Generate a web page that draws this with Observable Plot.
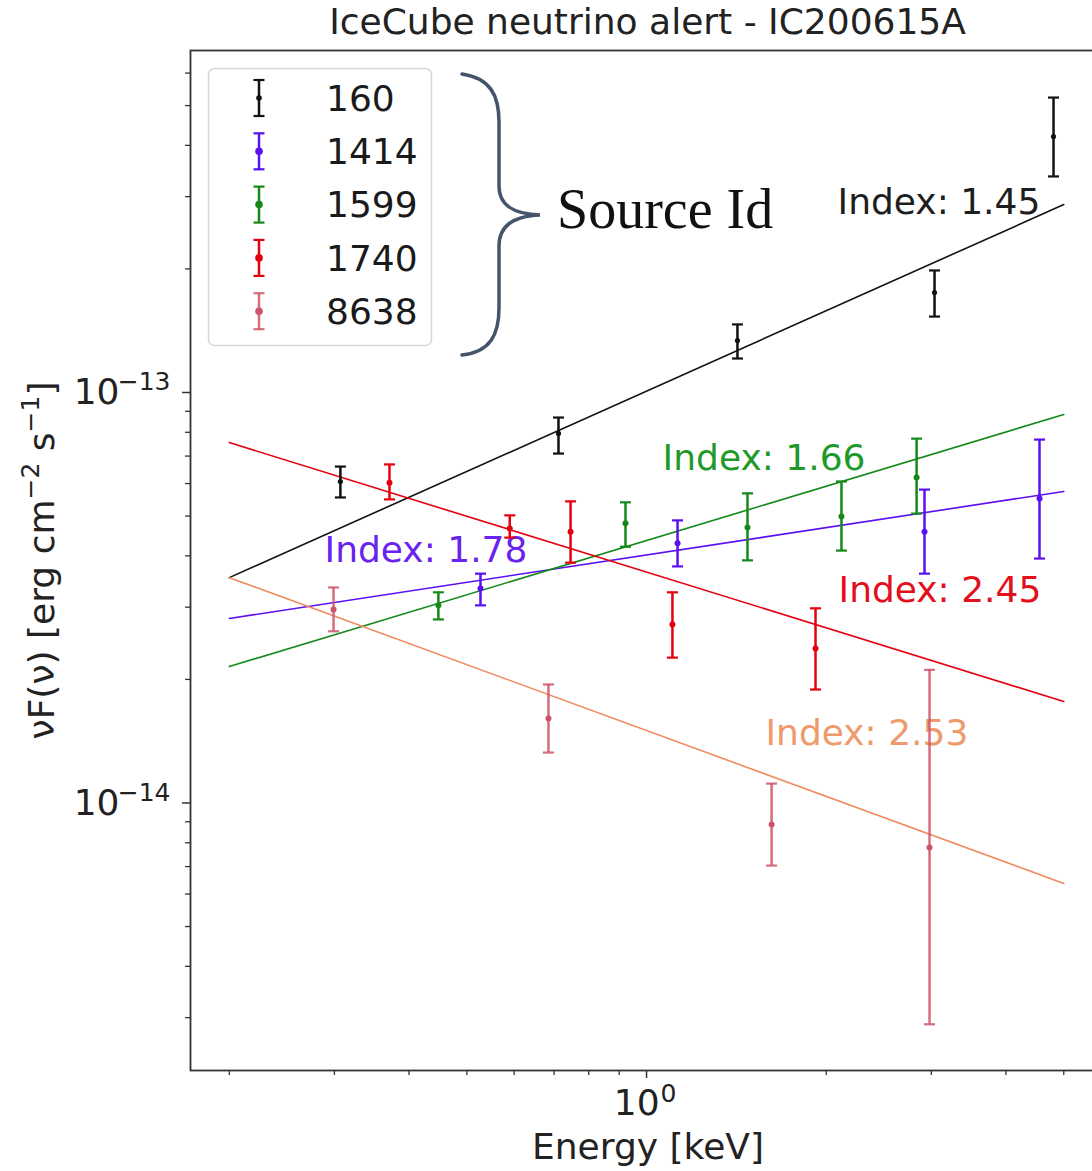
<!DOCTYPE html>
<html><head><meta charset="utf-8">
<script src="https://cdn.jsdelivr.net/npm/d3@7"></script>
<script src="https://cdn.jsdelivr.net/npm/@observablehq/plot@0.6"></script>
<style>
body{margin:0;background:#fff;}
#wrap{position:relative;width:1092px;height:1171px;overflow:hidden;background:#fff;font-family:"DejaVu Sans",sans-serif;}
#title{position:absolute;left:190px;top:0;width:915px;height:44px;line-height:44px;text-align:center;font-size:36px;color:#222;white-space:nowrap;}
#chart{position:absolute;left:0;top:44px;}
#overlay{position:absolute;left:0;top:0;pointer-events:none;}
</style></head>
<body>
<div id="wrap">
  <div id="title">IceCube neutrino alert - IC200615A</div>
  <div id="chart"></div>
  <svg id="overlay" width="1092" height="1171"></svg>
</div>
<script>
// ---- categories & colours ----
const sourceIds = ["160", "1414", "1599", "1740", "8638"];
const pointColors = ["#111111", "#5a10f0", "#14891a", "#e5000f", "#cc5468"];
const fitColors = ["#111111", "#5a10f0", "#14891a", "#e5000f", "#ef8a5e"];
const indexLabels = ["Index: 1.45", "Index: 1.78", "Index: 1.66", "Index: 2.45", "Index: 2.53"];
const labelColors = ["#1e1e1e", "#6a22ee", "#1f9a2a", "#e2101c", "#ee9a6c"];
const labelEnergy = [2.089, 0.2888, 1.064, 2.097, 1.582];
const labelFlux = [2.904e-13, 4.12e-14, 6.91e-14, 3.29e-14, 1.476e-14];

// ---- series values (energy keV, nuFnu, lower, upper) ----
const e160 = [0.307, 0.712, 1.420, 3.037, 4.806];
const f160 = [6.07e-14, 7.95e-14, 1.339e-13, 1.752e-13, 4.203e-13];
const lo160 = [5.55e-14, 7.10e-14, 1.210e-13, 1.531e-13, 3.36e-13];
const hi160 = [6.60e-14, 8.69e-14, 1.465e-13, 1.983e-13, 5.23e-13];

const e1414 = [0.527, 1.127, 2.922, 4.553];
const f1414 = [3.33e-14, 4.29e-14, 4.58e-14, 5.52e-14];
const lo1414 = [3.03e-14, 3.77e-14, 3.62e-14, 3.94e-14];
const hi1414 = [3.62e-14, 4.88e-14, 5.80e-14, 7.68e-14];

const e1599 = [0.448, 0.922, 1.476, 2.121, 2.834];
const f1599 = [3.03e-14, 4.80e-14, 4.69e-14, 4.99e-14, 6.21e-14];
const lo1599 = [2.80e-14, 4.21e-14, 3.90e-14, 4.12e-14, 5.07e-14];
const hi1599 = [3.26e-14, 5.40e-14, 5.68e-14, 6.07e-14, 7.72e-14];

const e1740 = [0.371, 0.590, 0.746, 1.105, 1.919];
const f1740 = [6.03e-14, 4.66e-14, 4.58e-14, 2.72e-14, 2.38e-14];
const lo1740 = [5.49e-14, 4.43e-14, 3.85e-14, 2.26e-14, 1.89e-14];
const hi1740 = [6.68e-14, 5.02e-14, 5.43e-14, 3.26e-14, 2.98e-14];

const e8638 = [0.299, 0.685, 1.620, 2.979];
const f8638 = [2.96e-14, 1.606e-14, 8.86e-15, 7.79e-15];
const lo8638 = [2.62e-14, 1.327e-14, 7.04e-15, 2.89e-15];
const hi8638 = [3.35e-14, 1.944e-14, 1.115e-14, 2.11e-14];

// fitted power laws (end points)
const fitEnergy = [0.2, 5];
const fit160 = [3.54e-14, 2.87e-13];
const fit1414 = [2.815e-14, 5.74e-14];
const fit1599 = [2.15e-14, 8.84e-14];
const fit1740 = [7.55e-14, 1.767e-14];
const fit8638 = [3.54e-14, 6.37e-15];

// ticks
const xMajor = [1];
const xMajorExp = ["0"];
const xMinor = [0.2, 0.3, 0.4, 0.5, 0.6, 0.7, 0.8, 0.9, 2, 3, 4, 5];
const yMajor = [1e-14, 1e-13];
const yMajorExp = ["−14", "−13"];
const yMinor = [3e-15, 4e-15, 5e-15, 6e-15, 7e-15, 8e-15, 9e-15,
  2e-14, 3e-14, 4e-14, 5e-14, 6e-14, 7e-14, 8e-14, 9e-14,
  2e-13, 3e-13, 4e-13, 5e-13, 6e-13];

// ---- tables ----
const seriesE = [e160, e1414, e1599, e1740, e8638];
const seriesF = [f160, f1414, f1599, f1740, f8638];
const seriesLo = [lo160, lo1414, lo1599, lo1740, lo8638];
const seriesHi = [hi160, hi1414, hi1599, hi1740, hi8638];
const fits = [fit160, fit1414, fit1599, fit1740, fit8638];

const points = [];
sourceIds.forEach((id, s) => seriesE[s].forEach((e, i) => points.push({
  id, s, e, f: seriesF[s][i], lo: seriesLo[s][i], hi: seriesHi[s][i]
})));
const fitRows = [];
sourceIds.forEach((id, s) => fitEnergy.forEach((e, i) => fitRows.push({id, s, e, f: fits[s][i]})));
const labelRows = sourceIds.map((id, s) => ({id, s, e: labelEnergy[s], f: labelFlux[s], text: indexLabels[s]}));
const xTickRows = xMajor.map((v, i) => ({v, exp: xMajorExp[i]}));
const yTickRows = yMajor.map((v, i) => ({v, exp: yMajorExp[i]}));

const capSymbol = {draw(ctx, size) { const w = Math.sqrt(size / Math.PI); ctx.moveTo(-w, 0); ctx.lineTo(w, 0); }};
const pc = d => pointColors[d.s];
const op = d => d.s === 4 ? 0.85 : 1;
const txt = "#222";

const chart = Plot.plot({
  width: 1092, height: 1127,
  marginTop: 6, marginBottom: 101, marginLeft: 190, marginRight: -13,
  style: {fontFamily: "DejaVu Sans", fontSize: "36px", color: txt, background: "transparent", overflow: "hidden"},
  x: {type: "log", domain: [0.1722, 5.873]},
  y: {type: "log", domain: [2.23e-15, 6.81e-13]},
  marks: [
    Plot.frame({stroke: "#333", strokeWidth: 1.8}),
    Plot.axisX({ticks: xMinor, tickSize: 5, text: null, label: null, stroke: "#333", strokeWidth: 1.3}),
    Plot.axisX({ticks: xMajor, tickSize: 8, text: null, label: null, stroke: "#333", strokeWidth: 1.5}),
    Plot.axisY({ticks: yMinor, tickSize: 5, text: null, label: null, stroke: "#333", strokeWidth: 1.3}),
    Plot.axisY({ticks: yMajor, tickSize: 8, text: null, label: null, stroke: "#333", strokeWidth: 1.5}),
    // x tick label 10^0
    Plot.text(xTickRows, {x: "v", frameAnchor: "bottom", text: () => "10", dx: 13, dy: 33, fontSize: 36, fill: txt, textAnchor: "end", lineAnchor: "middle"}),
    Plot.text(xTickRows, {x: "v", frameAnchor: "bottom", text: "exp", dx: 14, dy: 23, fontSize: 25, fill: txt, textAnchor: "start", lineAnchor: "middle"}),
    // y tick labels 10^-n
    Plot.text(yTickRows, {y: "v", frameAnchor: "left", text: () => "10", dx: -71, fontSize: 36, fill: txt, textAnchor: "end", lineAnchor: "middle"}),
    Plot.text(yTickRows, {y: "v", frameAnchor: "left", text: "exp", dx: -20, dy: -10, fontSize: 25, fill: txt, textAnchor: "end", lineAnchor: "middle"}),
    Plot.text(["Energy [keV]"], {frameAnchor: "bottom", dy: 77, text: d => d, fontSize: 36, fill: txt, textAnchor: "middle", lineAnchor: "middle"}),
    Plot.text(["νF(ν) [erg cm−2 s−1]"], {frameAnchor: "left", dx: -148, rotate: -90, text: d => d, fontSize: 36, fill: txt, textAnchor: "middle", lineAnchor: "middle", className: "ylab"}),
    Plot.line(fitRows, {x: "e", y: "f", z: "id", stroke: d => fitColors[d.s], strokeWidth: 1.6}),
    Plot.text(labelRows, {x: "e", y: "f", text: "text", fill: d => labelColors[d.s], textAnchor: "start", lineAnchor: "middle", fontSize: 36}),
    Plot.ruleX(points, {x: "e", y1: "lo", y2: "hi", stroke: pc, strokeWidth: 2.5, strokeOpacity: op}),
    Plot.dot(points, {x: "e", y: "lo", symbol: capSymbol, r: 5.5, stroke: pc, strokeWidth: 2.2, fill: "none", strokeOpacity: op}),
    Plot.dot(points, {x: "e", y: "hi", symbol: capSymbol, r: 5.5, stroke: pc, strokeWidth: 2.2, fill: "none", strokeOpacity: op}),
    Plot.dot(points, {x: "e", y: "f", r: d => d.s === 0 ? 2.8 : 3.8, fill: pc, stroke: "none"})
  ]
});
document.getElementById("chart").appendChild(chart);

// superscripts in the y-axis label (kept as real text)
chart.querySelectorAll(".ylab text").forEach(t => {
  if (!t.textContent.startsWith("νF")) return;
  t.textContent = "";
  const parts = [["νF(ν) [erg cm", 0, 1], ["−2", -0.42, 0.7], [" s", 0.42, 1], ["−1", -0.42, 0.7], ["]", 0.42, 1]];
  let prevSize = 1;
  parts.forEach(([s, shift, size]) => {
    const ts = document.createElementNS("http://www.w3.org/2000/svg", "tspan");
    ts.textContent = s;
    ts.setAttribute("font-size", size === 1 ? "36px" : "25px");
    if (shift) ts.setAttribute("dy", (shift * 36) + "px");
    t.appendChild(ts);
  });
});

// ---- legend, brace and annotation overlay ----
const ov = d3.select("#overlay");
ov.append("rect").attr("x", 208.5).attr("y", 68.5).attr("width", 223).attr("height", 277)
  .attr("rx", 6).attr("fill", "white").attr("fill-opacity", 0.85).attr("stroke", "#d6d6d6").attr("stroke-width", 1.5);
const rowY = i => 98 + i * 53.3;
sourceIds.forEach((id, i) => {
  const g = ov.append("g").attr("transform", `translate(259,${rowY(i)})`);
  const c = pointColors[i];
  const o = i === 4 ? 0.85 : 1;
  g.append("line").attr("x1", 0).attr("x2", 0).attr("y1", -18).attr("y2", 18).attr("stroke", c).attr("stroke-width", 2.5).attr("stroke-opacity", o);
  g.append("line").attr("x1", -5.5).attr("x2", 5.5).attr("y1", -18).attr("y2", -18).attr("stroke", c).attr("stroke-width", 2.2).attr("stroke-opacity", o);
  g.append("line").attr("x1", -5.5).attr("x2", 5.5).attr("y1", 18).attr("y2", 18).attr("stroke", c).attr("stroke-width", 2.2).attr("stroke-opacity", o);
  g.append("circle").attr("r", i === 0 ? 2.8 : 3.8).attr("fill", c);
  ov.append("text").attr("x", 326).attr("y", rowY(i)).attr("dy", "0.35em")
    .attr("font-family", "DejaVu Sans").attr("font-size", 36).attr("fill", "#1a1a1a").text(id);
});
ov.append("path")
  .attr("d", "M462,74 C490,78 499,95 499,122 L499,186 C499,206 514,214 540,215 C514,216 499,226 499,246 L499,308 C499,335 490,352 462,355")
  .attr("fill", "none").attr("stroke", "#44546a").attr("stroke-width", 3.5).attr("stroke-linecap", "round");
ov.append("text").attr("x", 557).attr("y", 228)
  .attr("font-family", "Liberation Serif, serif").attr("font-size", 56).attr("fill", "#111").text("Source Id");
</script>
</body></html>
